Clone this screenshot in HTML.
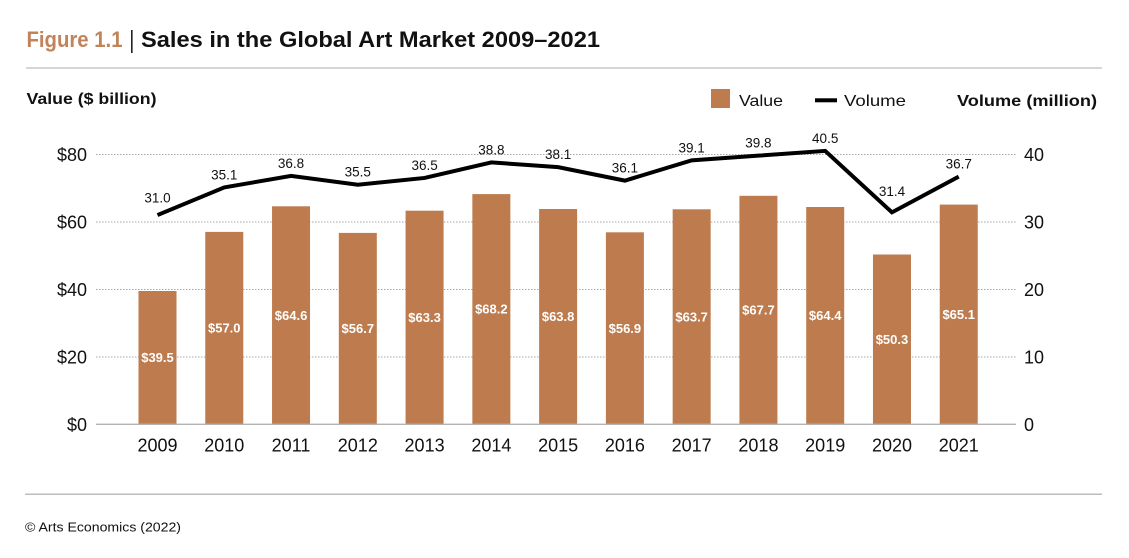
<!DOCTYPE html>
<html>
<head>
<meta charset="utf-8">
<style>
  html,body{margin:0;padding:0;background:#fff;}
  svg{display:block;}
  text{font-family:"Liberation Sans","DejaVu Sans",sans-serif;}
</style>
</head>
<body>
<svg width="1129" height="558" viewBox="0 0 1129 558" xmlns="http://www.w3.org/2000/svg">
  <rect width="1129" height="558" fill="#fff"/>

  <!-- Title -->
  <text x="26.5" y="47" font-size="22" font-weight="bold" fill="#c0835a" textLength="96" lengthAdjust="spacingAndGlyphs">Figure 1.1</text>
  <rect x="131" y="30" width="1.6" height="23" fill="#222"/>
  <text x="141" y="47" font-size="22" font-weight="bold" fill="#111" textLength="459" lengthAdjust="spacingAndGlyphs">Sales in the Global Art Market 2009–2021</text>
  <rect x="26" y="67" width="1076" height="2" fill="#d6d6d6"/>

  <!-- Axis titles & legend -->
  <text x="26.5" y="104" font-size="16" font-weight="bold" fill="#111" textLength="130" lengthAdjust="spacingAndGlyphs">Value ($ billion)</text>
  <rect x="711" y="89" width="19" height="19" fill="#bd7b4e"/>
  <text x="739" y="106" font-size="16" fill="#111" textLength="44" lengthAdjust="spacingAndGlyphs">Value</text>
  <rect x="815" y="98.3" width="22" height="4" fill="#000"/>
  <text x="844" y="106" font-size="16" fill="#111" textLength="62" lengthAdjust="spacingAndGlyphs">Volume</text>
  <text x="957" y="106" font-size="16" font-weight="bold" fill="#111" textLength="140" lengthAdjust="spacingAndGlyphs">Volume (million)</text>

  <!-- Gridlines -->
  <g stroke="#a8a8a8" stroke-width="1" stroke-dasharray="1.5 1.5">
    <line x1="96" y1="154.5" x2="1016" y2="154.5"/>
    <line x1="96" y1="222" x2="1016" y2="222"/>
    <line x1="96" y1="289.5" x2="1016" y2="289.5"/>
    <line x1="96" y1="357" x2="1016" y2="357"/>
  </g>

  <!-- Left axis labels -->
  <g font-size="18" fill="#111" text-anchor="end">
    <text x="87" y="161">$80</text>
    <text x="87" y="228.5">$60</text>
    <text x="87" y="296">$40</text>
    <text x="87" y="363.5">$20</text>
    <text x="87" y="431">$0</text>
  </g>
  <!-- Right axis labels -->
  <g font-size="18" fill="#111">
    <text x="1024" y="161">40</text>
    <text x="1024" y="228.5">30</text>
    <text x="1024" y="296">20</text>
    <text x="1024" y="363.5">10</text>
    <text x="1024" y="431">0</text>
  </g>

  <!-- Bars -->
  <g fill="#bd7b4e">
    <rect x="138.5" y="291.0" width="38" height="133.3"/>
    <rect x="205.27" y="231.9" width="38" height="192.4"/>
    <rect x="272.04" y="206.3" width="38" height="218.0"/>
    <rect x="338.81" y="232.9" width="38" height="191.4"/>
    <rect x="405.58" y="210.7" width="38" height="213.6"/>
    <rect x="472.35" y="194.1" width="38" height="230.2"/>
    <rect x="539.12" y="209.0" width="38" height="215.3"/>
    <rect x="605.89" y="232.3" width="38" height="192.0"/>
    <rect x="672.66" y="209.3" width="38" height="215.0"/>
    <rect x="739.43" y="195.8" width="38" height="228.5"/>
    <rect x="806.2" y="207.0" width="38" height="217.3"/>
    <rect x="872.97" y="254.5" width="38" height="169.8"/>
    <rect x="939.74" y="204.6" width="38" height="219.7"/>
  </g>

  <!-- Baseline -->
  <rect x="96" y="423.6" width="920" height="1.4" fill="#b5b5b5"/>

  <!-- Bar value labels -->
  <g font-size="13" font-weight="bold" fill="#fff" text-anchor="middle">
    <text x="157.5" y="362.2">$39.5</text>
    <text x="224.27" y="332.6">$57.0</text>
    <text x="291.04" y="319.8">$64.6</text>
    <text x="357.81" y="333.1">$56.7</text>
    <text x="424.58" y="322.0">$63.3</text>
    <text x="491.35" y="313.7">$68.2</text>
    <text x="558.12" y="321.2">$63.8</text>
    <text x="624.89" y="332.8">$56.9</text>
    <text x="691.66" y="321.3">$63.7</text>
    <text x="758.43" y="314.6">$67.7</text>
    <text x="825.2" y="320.2">$64.4</text>
    <text x="891.97" y="343.9">$50.3</text>
    <text x="958.74" y="319.0">$65.1</text>
  </g>

  <!-- Volume line -->
  <polyline fill="none" stroke="#000" stroke-width="4" stroke-linejoin="miter" stroke-linecap="butt"
    points="157.5,215.05 224.27,187.38 291.04,175.9 357.81,184.68 424.58,177.93 491.35,162.4 558.12,167.13 624.89,180.63 691.66,160.38 758.43,155.65 825.2,150.93 891.97,212.35 958.74,176.58"/>

  <!-- Volume labels -->
  <g font-size="13.5" fill="#111" text-anchor="middle">
    <text x="157.5" y="202.7">31.0</text>
    <text x="224.27" y="179.4">35.1</text>
    <text x="291.04" y="167.9">36.8</text>
    <text x="357.81" y="176.7">35.5</text>
    <text x="424.58" y="169.9">36.5</text>
    <text x="491.35" y="154.4">38.8</text>
    <text x="558.12" y="159.1">38.1</text>
    <text x="624.89" y="172.6">36.1</text>
    <text x="691.66" y="152.4">39.1</text>
    <text x="758.43" y="147.6">39.8</text>
    <text x="825.2" y="142.9">40.5</text>
    <text x="891.97" y="196">31.4</text>
    <text x="958.74" y="168.6">36.7</text>
  </g>

  <!-- Year labels -->
  <g font-size="18" fill="#111" text-anchor="middle">
    <text x="157.5" y="451.5">2009</text>
    <text x="224.27" y="451.5">2010</text>
    <text x="291.04" y="451.5">2011</text>
    <text x="357.81" y="451.5">2012</text>
    <text x="424.58" y="451.5">2013</text>
    <text x="491.35" y="451.5">2014</text>
    <text x="558.12" y="451.5">2015</text>
    <text x="624.89" y="451.5">2016</text>
    <text x="691.66" y="451.5">2017</text>
    <text x="758.43" y="451.5">2018</text>
    <text x="825.2" y="451.5">2019</text>
    <text x="891.97" y="451.5">2020</text>
    <text x="958.74" y="451.5">2021</text>
  </g>

  <!-- Footer -->
  <rect x="25" y="493.5" width="1077" height="1.5" fill="#bdbdbd"/>
  <text x="25" y="531.5" font-size="13" fill="#111" textLength="156" lengthAdjust="spacingAndGlyphs">© Arts Economics (2022)</text>
</svg>
</body>
</html>
